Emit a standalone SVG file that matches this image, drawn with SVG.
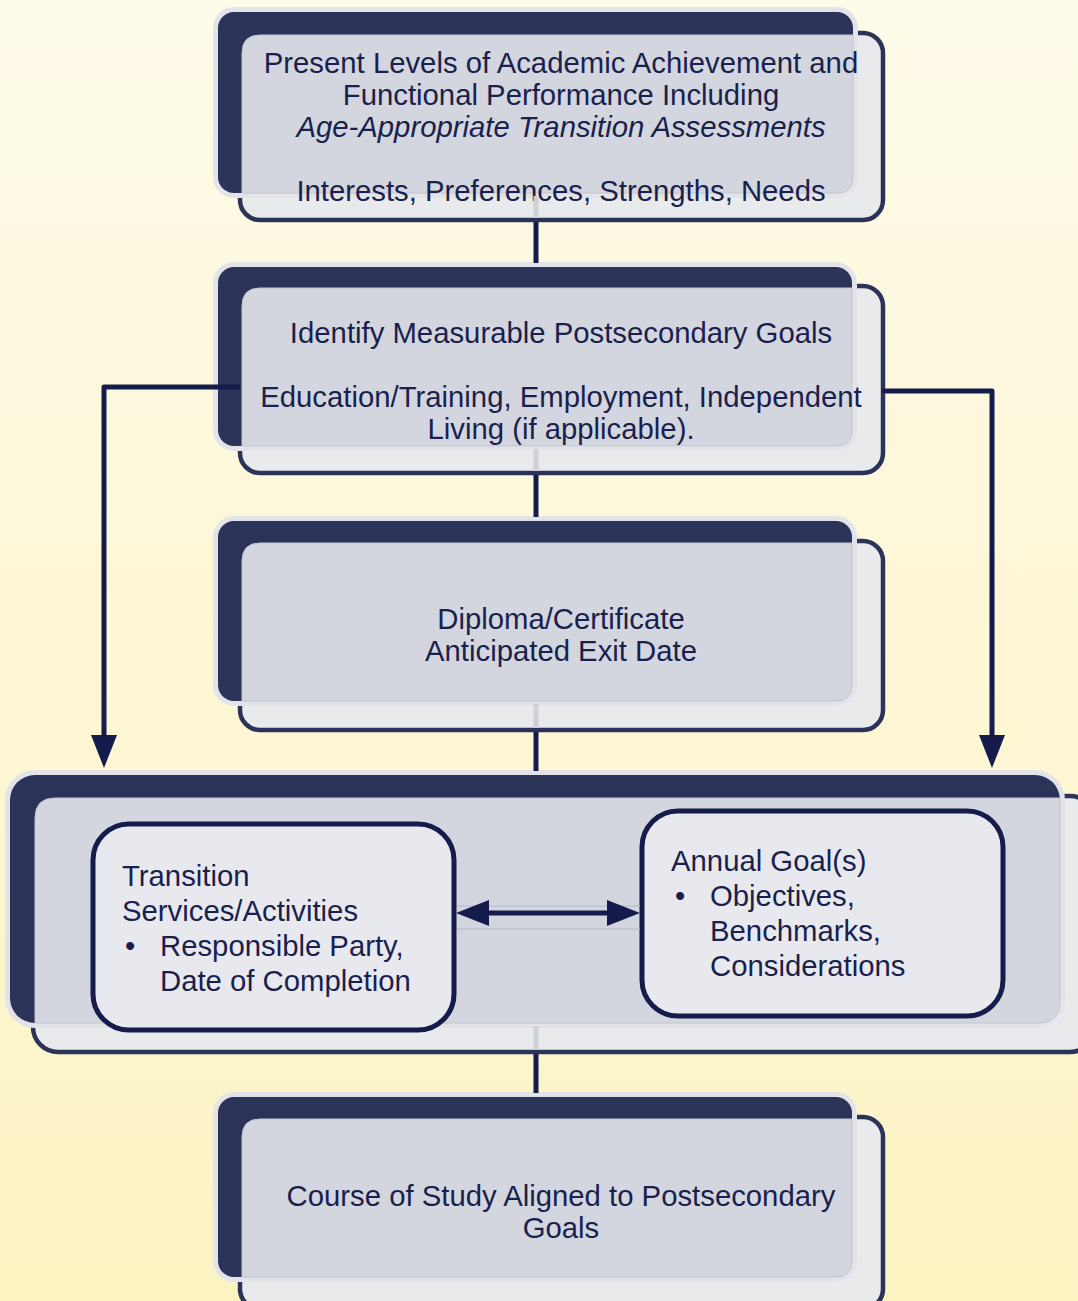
<svg xmlns="http://www.w3.org/2000/svg" width="1078" height="1301" viewBox="0 0 1078 1301">
<defs>
<linearGradient id="bg" x1="0" y1="0" x2="0" y2="1">
<stop offset="0" stop-color="#fefbe9"/>
<stop offset="1" stop-color="#fcf3c3"/>
</linearGradient>
<marker id="ah" viewBox="0 0 33 26" refX="0" refY="13" markerWidth="33" markerHeight="26" markerUnits="userSpaceOnUse" orient="auto-start-reverse">
<path d="M0,0 L33,13 L0,26 Z" fill="#151c4b"/>
</marker>
<style>
.front{fill:#e9eaec;stroke:#2b3358;stroke-width:4.5}
.dark{fill:#2b3358;stroke:#e3e4ea;stroke-width:10;paint-order:stroke}
.ov{fill:#d3d6de;stroke:#c3c6d0;stroke-width:1}
.inner{fill:#e8e9ee;stroke:#151c4b;stroke-width:5}
.t{font-family:"Liberation Sans",Arial,sans-serif;font-size:29.3px;fill:#1a1f4d}
.c{text-anchor:middle}
.i{font-style:italic}
.nav{stroke:#151c4b;stroke-width:5;fill:none}
.lite{stroke:#cfd1d8;stroke-width:5;fill:none}
.rule{stroke:#b3b7c4;stroke-width:1.2;fill:none}
</style>
</defs>
<rect x="0" y="0" width="1078" height="1301" fill="url(#bg)"/>

<g id="node-present-levels">
<rect class="front" x="240" y="33" width="643" height="187" rx="20"/>
<rect class="dark" x="218" y="12" width="635" height="181" rx="16"/>
<path class="ov" d="M260,35 H853 V177 Q853,193 837,193 H242 V53 Q242,35 260,35 Z"/>
<text class="t c" x="561" y="73">Present Levels of Academic Achievement and</text>
<text class="t c" x="561" y="105">Functional Performance Including</text>
<text class="t c i" x="561" y="137">Age-Appropriate Transition Assessments</text>
<text class="t c" x="561" y="201">Interests, Preferences, Strengths, Needs</text>
</g>

<g id="node-postsecondary-goals">
<rect class="front" x="240" y="286" width="643" height="187" rx="20"/>
<rect class="dark" x="218" y="267" width="634" height="179" rx="16"/>
<path class="ov" d="M260,288 H852 V430 Q852,446 836,446 H242 V306 Q242,288 260,288 Z"/>
<text class="t c" x="561" y="343">Identify Measurable Postsecondary Goals</text>
<text class="t c" x="561" y="407">Education/Training, Employment, Independent</text>
<text class="t c" x="561" y="439">Living (if applicable).</text>
</g>

<g id="node-diploma">
<rect class="front" x="240" y="541" width="643" height="189" rx="20"/>
<rect class="dark" x="218" y="521" width="634" height="180" rx="16"/>
<path class="ov" d="M260,543 H852 V685 Q852,701 836,701 H242 V561 Q242,543 260,543 Z"/>
<text class="t c" x="561" y="629">Diploma/Certificate</text>
<text class="t c" x="561" y="661">Anticipated Exit Date</text>
</g>

<g id="node-services-goals">
<rect class="front" x="33" y="796" width="1062" height="256" rx="25"/>
<rect class="dark" x="10" y="775" width="1050" height="248" rx="25"/>
<path class="ov" d="M55,798 H1060 V1001 Q1060,1023 1038,1023 H35 V818 Q35,798 55,798 Z"/>
<g id="node-transition-services">
<rect class="inner" x="93" y="824" width="361" height="206" rx="36"/>
<text class="t" x="122" y="886">Transition</text>
<text class="t" x="122" y="921">Services/Activities</text>
<text class="t" x="125" y="956">•</text>
<text class="t" x="160" y="956">Responsible Party,</text>
<text class="t" x="160" y="991">Date of Completion</text>
</g>
<g id="node-annual-goals">
<rect class="inner" x="642" y="811" width="361" height="205" rx="36"/>
<text class="t" x="671" y="871">Annual Goal(s)</text>
<text class="t" x="675" y="906">•</text>
<text class="t" x="710" y="906">Objectives,</text>
<text class="t" x="710" y="941">Benchmarks,</text>
<text class="t" x="710" y="976">Considerations</text>
</g>
</g>

<g id="node-course-of-study">
<rect class="front" x="240" y="1117" width="643" height="192" rx="20"/>
<rect class="dark" x="218" y="1097" width="634" height="180" rx="16"/>
<path class="ov" d="M260,1119 H852 V1261 Q852,1277 836,1277 H242 V1137 Q242,1119 260,1119 Z"/>
<text class="t c" x="561" y="1206">Course of Study Aligned to Postsecondary</text>
<text class="t c" x="561" y="1238">Goals</text>
</g>

<g id="connectors">
<line class="lite" x1="536" y1="196" x2="536" y2="218"/>
<line class="nav" x1="536" y1="222" x2="536" y2="263"/>
<line class="lite" x1="536" y1="449" x2="536" y2="471"/>
<line class="nav" x1="536" y1="475" x2="536" y2="517"/>
<line class="lite" x1="536" y1="704" x2="536" y2="728"/>
<line class="nav" x1="536" y1="732" x2="536" y2="771"/>
<line class="lite" x1="536" y1="1026" x2="536" y2="1050"/>
<line class="nav" x1="536" y1="1054" x2="536" y2="1093"/>
<path class="nav" d="M240,387 H104 V735" stroke-linejoin="round" marker-end="url(#ah)"/>
<path class="nav" d="M882,391 H992 V735" stroke-linejoin="round" marker-end="url(#ah)"/>
<line class="rule" x1="457" y1="906" x2="640" y2="906"/>
<line class="rule" x1="457" y1="929" x2="640" y2="929"/>
<line class="nav" x1="489" y1="913" x2="607" y2="913" marker-start="url(#ah)" marker-end="url(#ah)"/>
</g>
</svg>
